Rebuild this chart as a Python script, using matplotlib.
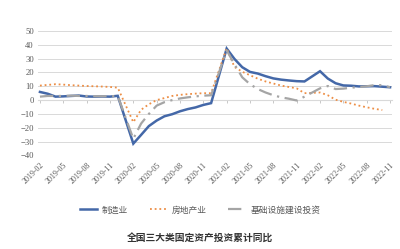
import matplotlib
matplotlib.use("Agg")
import matplotlib.pyplot as plt
import numpy as np

# ---- data ----
years = [2019, 2020, 2021, 2022]
month_nums = [2, 3, 4, 5, 6, 7, 8, 9, 10, 11, 12]

manuf = [5.9, 4.6, 2.5, 2.7, 3.0, 3.3, 2.6, 2.5, 2.6, 2.5, 3.1,
         -31.5, -25.2, -18.8, -14.8, -11.7, -10.2, -8.1, -6.5, -5.3, -3.5, -2.2,
         37.3, 29.8, 23.8, 20.4, 19.2, 17.3, 15.7, 14.8, 14.2, 13.7, 13.5,
         20.9, 15.6, 12.2, 10.6, 10.4, 9.9, 10.0, 10.1, 9.7, 9.3]
realestate = [10.5, 11.0, 11.5, 11.2, 10.8, 10.5, 10.2, 10.0, 9.8, 9.5, 9.0,
              -16.0, -7.0, -3.0, 0.0, 1.5, 3.0, 3.8, 4.3, 4.7, 5.0, 5.0,
              37.5, 24.0, 20.5, 18.0, 15.5, 13.5, 12.0, 10.5, 9.5, 8.5, 5.0,
              5.5, 3.5, 0.3, -1.3, -2.5, -4.0, -5.2, -6.3, -7.2]
infra = [2.5, 3.0, 3.0, 3.0, 3.2, 3.0, 3.0, 2.8, 2.8, 2.8, 3.0,
         -28.0, -17.0, -10.0, -4.0, -1.5, 0.0, 1.2, 2.0, 2.7, 3.2, 3.5,
         36.0, 26.0, 16.5, 11.5, 8.0, 5.5, 3.5, 2.0, 1.0, -0.3, 2.5,
         8.5, 10.2, 8.0, 8.3, 9.0, 9.5, 10.0, 10.8, 10.8, 9.3]

tick_labels = ["2019-02", "2019-05", "2019-08", "2019-11",
               "2020-02", "2020-05", "2020-08", "2020-11",
               "2021-02", "2021-05", "2021-08", "2021-11",
               "2022-02", "2022-05", "2022-08", "2022-11"]

series_names = ["制造业", "房地产业", "基础设施建设投资"]
title = "全国三大类固定资产投资累计同比"

# month positions (months since 2019-02), January absent from data
months = [(y, m) for y in years for m in month_nums if not (y == 2022 and m == 12)]
xpos = np.array([(y - 2019) * 12 + (m - 2) for y, m in months])
tick_pos = [(int(s[:4]) - 2019) * 12 + int(s[5:]) - 2 for s in tick_labels]

plt.rcParams['font.family'] = ['Liberation Serif', 'Noto Sans CJK SC', 'DejaVu Sans']

fig = plt.figure(figsize=(4.0, 2.49), dpi=100)
ax = fig.add_axes([0.095, 0.376, 0.885, 0.4995])

grid_c = "#D9D9D9"
txt_c = "#595959"

ax.set_ylim(-40, 50)
ax.set_xlim(-0.25, 45.25)
ax.set_yticks(np.arange(-40, 51, 10))
ax.yaxis.grid(True, color=grid_c, linewidth=0.7)
ax.set_axisbelow(True)
for s in ax.spines.values():
    s.set_visible(False)
ax.tick_params(axis='y', length=0, labelsize=6.2, labelcolor=txt_c, pad=3)
ax.set_xticks(tick_pos)
ax.set_xticklabels(tick_labels, rotation=45, ha='right', rotation_mode='anchor',
                   fontsize=5.8, color=txt_c)
ax.tick_params(axis='x', length=0, pad=4)

# zero axis with tick marks
sec = ax.secondary_xaxis(40 / 90)
sec.set_xticks(tick_pos)
sec.set_xticklabels([])
sec.tick_params(axis='x', length=2, width=0.6, color="#BFBFBF", direction='out')
sec.spines['bottom'].set_color(grid_c)
sec.spines['bottom'].set_linewidth(0.8)
sec.spines['top'].set_visible(False)

re_x = xpos[:len(realestate)]
ax.plot(xpos, manuf, color="#4468A8", lw=1.8, label=series_names[0], solid_joinstyle='miter')
ax.plot(re_x, realestate, color="#ED8E45", lw=1.3, linestyle=(0, (1, 1.6)),
        label=series_names[1])
ax.plot(xpos, infra, color="#A5A5A5", lw=1.6, linestyle=(0, (6, 2.5, 1, 2.5)),
        label=series_names[2])

leg = fig.legend(loc='center', bbox_to_anchor=(0.5, 1 - 210 / 249), ncol=3,
                 frameon=False, handlelength=2.0, columnspacing=2.5,
                 handletextpad=0.5, prop={'family': ['Noto Sans CJK SC'], 'size': 6.3})
for t in leg.get_texts():
    t.set_color(txt_c)

fig.text(0.5, 1 - 238 / 249, title, ha='center', va='center', fontsize=7,
         fontweight='bold', color="#333333", family=['Noto Sans CJK SC'])

fig.savefig("out.png", dpi=100, facecolor='white')
